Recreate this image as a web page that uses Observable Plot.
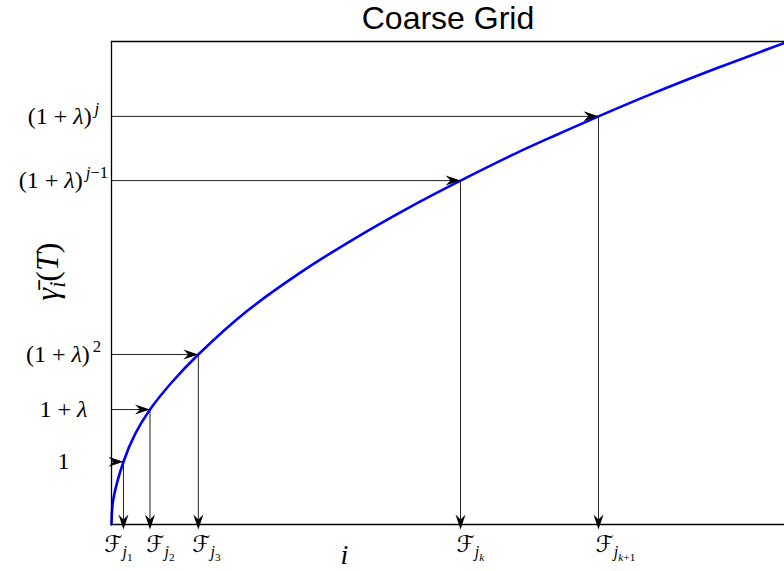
<!DOCTYPE html>
<html>
<head>
<meta charset="utf-8">
<script src="https://cdn.jsdelivr.net/npm/d3@7"></script>
<script src="https://cdn.jsdelivr.net/npm/@observablehq/plot@0.6"></script>
<style>
  html, body { margin: 0; padding: 0; background: #fff; }
  #chart svg { display: block; background: #fff; }
</style>
</head>
<body>
<div id="chart"></div>
<script>
// ---- data ----
const title = "Coarse Grid";
const xAxisLabel = "i";
const yAxisLabel = "\u03B3\u0304_i(T)";

// curve  γ̄_i(T) versus i
const curveI     = [0, 0.08, 0.3, 1.78, 3.5, 5.72, 9, 12.9, 20, 28, 36, 44, 51.86, 60, 66, 72.36, 80, 90, 100];
const curveGamma = [0, 0.28, 0.55, 1.30, 1.87, 2.38, 2.95, 3.52, 4.405, 5.21, 5.91, 6.547, 7.12, 7.68, 8.06, 8.45, 8.90, 9.45, 9.97];

// threshold levels on the y axis and where they meet the curve
const levelLabels = ["1", "1 + \u03BB", "(1 + \u03BB)^2", "(1 + \u03BB)^{j\u22121}", "(1 + \u03BB)^j"];
const levelValues = [1.30, 2.38, 3.52, 7.12, 8.45];
const crossI      = [1.78, 5.72, 12.9, 51.86, 72.36];

// labels under the x axis
const fLabels = ["\u2131_{j_1}", "\u2131_{j_2}", "\u2131_{j_3}", "\u2131_{j_k}", "\u2131_{j_{k+1}}"];
const fLabelI = [1.04, 7.28, 14.12, 53.34, 74.89];

// ---- build ----
const curve = curveI.map((x, k) => ({i: x, g: curveGamma[k]}));
const points = levelValues.map((v, k) => ({i: crossI[k], g: v}));

const stealth = {
  draw(ctx) {
    ctx.moveTo(0, 0);
    ctx.lineTo(-15, -5);
    ctx.lineTo(-10, 0);
    ctx.lineTo(-15, 5);
    ctx.closePath();
  }
};

const serif = "'Liberation Serif', 'DejaVu Serif', 'DejaVu Sans', serif";

const chart = Plot.plot({
  width: 784,
  height: 571,
  marginLeft: 111,
  marginRight: 0,
  marginTop: 41,
  marginBottom: 47,
  x: {domain: [0, 100]},
  y: {domain: [0, 10]},
  marks: [
    Plot.ruleY(points, {y: "g", x1: () => 0, x2: "i", stroke: "#222", strokeWidth: 1}),
    Plot.ruleX(points, {x: "i", y1: () => 0, y2: "g", stroke: "#222", strokeWidth: 1}),
    Plot.line(curve, {x: "i", y: "g", curve: "catmull-rom", stroke: "#0000ff", strokeWidth: 2.6}),
    Plot.dot(points, {x: "i", y: "g", symbol: stealth, rotate: 0, fill: "black", stroke: "none"}),
    Plot.dot(points, {x: "i", y: () => 0, symbol: stealth, rotate: 90, dy: 5, fill: "black", stroke: "none"}),
    Plot.ruleX([0], {stroke: "black", strokeWidth: 1.3}),
    Plot.ruleY([0, 10], {stroke: "black", strokeWidth: 1.3}),
    Plot.axisY({ticks: levelValues, tickFormat: (d, k) => levelLabels[k], tickSize: 0, tickPadding: 48,
      textAnchor: "middle", fontSize: 24, fontFamily: serif, label: null, fill: "black"}),
    Plot.axisX({ticks: fLabelI, tickFormat: (d, k) => fLabels[k], tickSize: 0, tickPadding: 11,
      textAnchor: "middle", fontSize: 23, fontFamily: serif, label: null, fill: "black"}),
    Plot.text([yAxisLabel], {text: d => d, frameAnchor: "left", dx: -64, dy: -11.5, rotate: -90,
      textAnchor: "middle", fontSize: 32, fontFamily: serif, fill: "black"}),
    Plot.text([xAxisLabel], {text: d => d, frameAnchor: "bottom-left", dx: 233, dy: 39, lineAnchor: "bottom",
      textAnchor: "middle", fontSize: 28, fontFamily: serif, fill: "black"}),
    Plot.text([title], {text: d => d, frameAnchor: "top", dy: -13, lineAnchor: "bottom",
      textAnchor: "middle", fontSize: 32, fontFamily: "'Liberation Sans', Arial, sans-serif", fill: "black"})
  ]
});
document.getElementById("chart").appendChild(chart);

// ---- turn the TeX-like label markup into tspans ----
function parse(s, size, base, out) {
  let i = 0;
  while (i < s.length) {
    const c = s[i];
    if (c === "^" || c === "_") {
      i++;
      let grp;
      if (s[i] === "{") {
        let depth = 1, j = i + 1;
        while (depth && j < s.length) { if (s[j] === "{") depth++; else if (s[j] === "}") depth--; j++; }
        grp = s.slice(i + 1, j - 1); i = j;
      } else { grp = s[i]; i++; }
      const sup = c === "^";
      const shift = sup ? -0.42 * size : 0.24 * size;
      const start = out.length;
      parse(grp, size * 0.7, base + shift, out);
      if (sup && out[start]) out[start].gap = 0.12 * size;
    } else {
      const mark = /\p{M}/u.test(c);
      const it = /\p{L}/u.test(c) && c !== "\u2131";
      const last = out[out.length - 1];
      if (last && last.size === size && last.base === base && (mark || last.it === it)) last.t += c;
      else out.push({t: c, size, base, it});
      i++;
    }
  }
  return out;
}
function rich(el) {
  const src = el.textContent;
  if (src === title) return;
  const fs = parseFloat(getComputedStyle(el).fontSize) || 20;
  const segs = parse(src, fs, 0, []);
  el.textContent = "";
  let prev = 0;
  for (const s of segs) {
    const t = document.createElementNS("http://www.w3.org/2000/svg", "tspan");
    t.setAttribute("font-size", s.size.toFixed(2));
    t.setAttribute("font-style", s.it ? "italic" : "normal");
    if (s.base !== prev) t.setAttribute("dy", (s.base - prev).toFixed(2));
    if (s.gap) t.setAttribute("dx", s.gap.toFixed(2));
    prev = s.base;
    t.textContent = s.t;
    el.appendChild(t);
  }
}
chart.querySelectorAll("text").forEach(rich);
</script>
</body>
</html>
